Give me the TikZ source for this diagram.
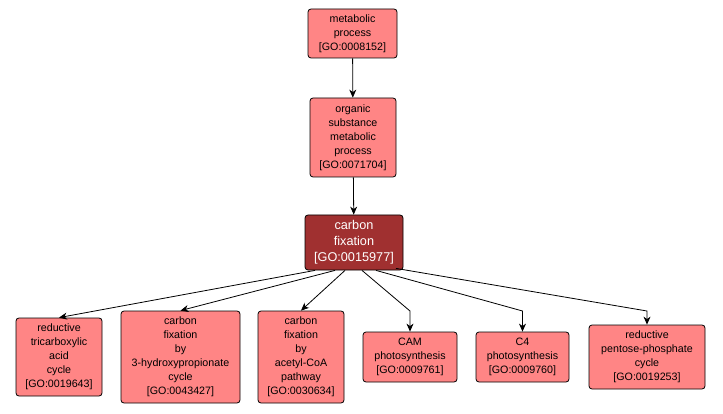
\documentclass[tikz,border=0pt]{standalone}
\usepackage{fontspec}
\setmainfont{Liberation Sans}
\usepackage{xcolor}
\usetikzlibrary{arrows.meta,calc}

\definecolor{goterm}{RGB}{255,133,133}
\definecolor{goroot}{RGB}{160,48,48}

\tikzset{
	term/.style={draw=black, line width=0.8pt, rounded corners=3pt, fill=goterm, align=center,
		inner sep=0pt, font=\fontsize{10.7}{14}\selectfont},
	focus/.style={term, fill=goroot, text=white, font=\fontsize{12.7}{16}\selectfont},
	edge/.style={line width=0.8pt, -{Stealth[length=8pt,width=7pt,inset=2.5pt]}}
}

\begin{document}
\begin{tikzpicture}[x=1pt,y=-1pt]
		\useasboundingbox (0,0) rectangle (723,414);
		
		\node (meta) at (352.5,33.5) [term,minimum width=89pt,minimum height=49pt] {metabolic\\process\\{[GO:0008152]}};
		\node (orgsub) at (353,137.5) [term,minimum width=86pt,minimum height=79pt] {organic\\substance\\metabolic\\process\\{[GO:0071704]}};
		\node (cfix) at (354,242.5) [focus,minimum width=98pt,minimum height=55pt] {carbon\\fixation\\{[GO:0015977]}};
		
		\node (rtca) at (59,357) [term,minimum width=86pt,minimum height=78pt] {reductive\\tricarboxylic\\acid\\cycle\\{[GO:0019643]}};
		\node (hydroxy) at (180.5,357) [term,minimum width=119pt,minimum height=92pt] {carbon\\fixation\\by\\3-hydroxypropionate\\cycle\\{[GO:0043427]}};
		\node (acetyl) at (301,357) [term,minimum width=86pt,minimum height=92pt] {carbon\\fixation\\by\\acetyl-CoA\\pathway\\{[GO:0030634]}};
		\node (cam) at (410,357) [term,minimum width=94pt,minimum height=50pt] {CAM\\photosynthesis\\{[GO:0009761]}};
		\node (cfour) at (522.5,357) [term,minimum width=93pt,minimum height=50pt] {C4\\photosynthesis\\{[GO:0009760]}};
		\node (rpp) at (647,357) [term,minimum width=116pt,minimum height=64pt] {reductive\\pentose-phosphate\\cycle\\{[GO:0019253]}};
		
		\coordinate (knee) at (0,311);
		
		\draw[edge] (meta) -- (orgsub);
		\draw[edge] (orgsub) -- (cfix);
		
		\draw[edge] ($(cfix.south)+(-39,0)$) -- (rtca.north);
		\draw[edge] ($(cfix.south)+(-19,0)$) -- (hydroxy.north);
		\draw[edge] ($(cfix.south)+(-9,0)$) -- (acetyl.north);
		\draw[edge] ($(cfix.south)+(8,0)$) -- (cam.north |- knee) -- (cam.north);
		\draw[edge] ($(cfix.south)+(22,0)$) -- (cfour.north |- knee) -- (cfour.north);
		\draw[edge] ($(cfix.south)+(42,-2)$) -- (rpp.north |- knee) -- (rpp.north);
	\end{tikzpicture}
\end{document}
